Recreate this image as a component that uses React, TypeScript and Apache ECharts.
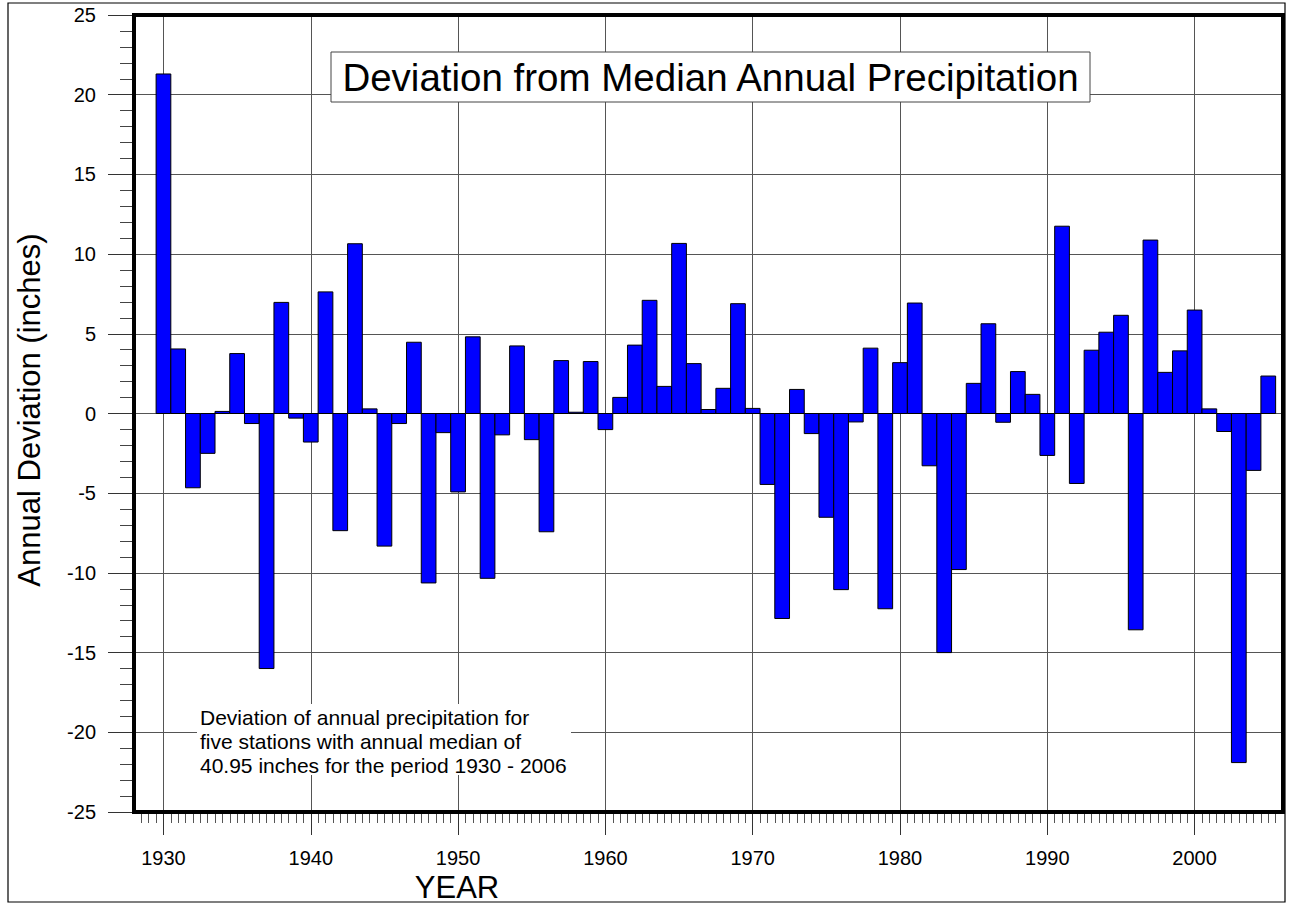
import React, { useEffect, useRef } from "react";
import * as echarts from "echarts";

const years: number[] = [
  1930, 1931, 1932, 1933, 1934, 1935, 1936, 1937, 1938, 1939,
  1940, 1941, 1942, 1943, 1944, 1945, 1946, 1947, 1948, 1949,
  1950, 1951, 1952, 1953, 1954, 1955, 1956, 1957, 1958, 1959,
  1960, 1961, 1962, 1963, 1964, 1965, 1966, 1967, 1968, 1969,
  1970, 1971, 1972, 1973, 1974, 1975, 1976, 1977, 1978, 1979,
  1980, 1981, 1982, 1983, 1984, 1985, 1986, 1987, 1988, 1989,
  1990, 1991, 1992, 1993, 1994, 1995, 1996, 1997, 1998, 1999,
  2000, 2001, 2002, 2003, 2004, 2005,
];

const deviation: number[] = [
  21.3, 4.05, -4.66, -2.5, 0.13, 3.76, -0.63, -16.0, 6.97, -0.29,
  -1.79, 7.63, -7.35, 10.65, 0.29, -8.32, -0.63, 4.47, -10.63, -1.2,
  -4.92, 4.81, -10.34, -1.34, 4.24, -1.64, -7.42, 3.32, 0.08, 3.26,
  -1.01, 1.01, 4.29, 7.1, 1.7, 10.67, 3.13, 0.25, 1.58, 6.89,
  0.32, -4.45, -12.86, 1.51, -1.26, -6.51, -11.05, -0.53, 4.1, -12.25,
  3.19, 6.93, -3.28, -15.0, -9.79, 1.89, 5.63, -0.55, 2.63, 1.2,
  -2.63, 11.75, -4.39, 3.97, 5.1, 6.16, -13.57, 10.88, 2.58, 3.93,
  6.49, 0.29, -1.13, -21.9, -3.57, 2.35,
];

const xTickValues: number[] = [1930, 1940, 1950, 1960, 1970, 1980, 1990, 2000];
const xMin = 1928;
const xMax = 2006;
const yMin = -25;
const yMax = 25;
const yStep = 5;

const titleText = "Deviation from Median Annual Precipitation";
const noteLines: string[] = [
  "Deviation of annual precipitation for",
  "five stations with annual median of",
  "40.95 inches for the period 1930 - 2006",
];
const yAxisTitle = "Annual Deviation (inches)";
const xAxisTitle = "YEAR";

const FONT = "'Liberation Sans', Arial, Helvetica, sans-serif";

export default function App() {
  const ref = useRef<HTMLDivElement>(null);

  useEffect(() => {
    if (!ref.current) return;
    const chart = echarts.init(ref.current, null, { renderer: "svg" });

    const data = years.map((y, i) => [y, deviation[i]]);

    const option: any = {
      animation: false,
      backgroundColor: "#ffffff",
      grid: { left: 134, top: 15, right: 6, bottom: 92, containLabel: false },
      xAxis: {
        type: "value",
        min: xMin,
        max: xMax,
        splitNumber: 8,
        axisLine: { show: false, onZero: false },
        axisTick: {
          show: true,
          customValues: xTickValues,
          length: 23,
          lineStyle: { color: "#333", width: 1 },
        },
        minorTick: {
          show: true,
          splitNumber: 20,
          length: 11,
          lineStyle: { color: "#555", width: 1 },
        },
        axisLabel: {
          customValues: xTickValues,
          formatter: (v: number) => String(v),
          margin: 36,
          color: "#000",
          fontFamily: FONT,
          fontSize: 20,
        },
        splitLine: { show: true, lineStyle: { color: "#555", width: 1 } },
      },
      yAxis: {
        type: "value",
        min: yMin,
        max: yMax,
        interval: yStep,
        axisLine: { show: false, onZero: false },
        axisTick: {
          show: true,
          length: 26,
          lineStyle: { color: "#333", width: 1 },
        },
        minorTick: {
          show: true,
          splitNumber: 5,
          length: 14,
          lineStyle: { color: "#444", width: 1 },
        },
        axisLabel: {
          formatter: (v: number) => String(v),
          margin: 38,
          color: "#000",
          fontFamily: FONT,
          fontSize: 20,
        },
        splitLine: { show: true, lineStyle: { color: "#555", width: 1 } },
      },
      series: [
        {
          type: "custom",
          data,
          encode: { x: 0, y: 1 },
          z: 5,
          renderItem: (params: any, api: any) => {
            const yr = api.value(0);
            const v = api.value(1);
            const p0 = api.coord([yr - 0.5, 0]);
            const p1 = api.coord([yr + 0.5, v]);
            return {
              type: "rect",
              shape: {
                x: p0[0],
                y: Math.min(p0[1], p1[1]),
                width: p1[0] - p0[0],
                height: Math.abs(p1[1] - p0[1]),
              },
              style: { fill: "#0000ff", stroke: "#000", lineWidth: 1 },
            };
          },
        },
      ],
      graphic: [
        {
          type: "rect",
          z: 100,
          silent: true,
          shape: { x: 8, y: 3, width: 1277, height: 899 },
          style: { fill: "none", stroke: "#000", lineWidth: 1.2 },
        },
        {
          type: "rect",
          z: 101,
          silent: true,
          shape: { x: 134, y: 15, width: 1149, height: 797 },
          style: { fill: "none", stroke: "#000", lineWidth: 4 },
        },
        {
          type: "rect",
          z: 102,
          silent: true,
          shape: { x: 331, y: 52, width: 759, height: 50 },
          style: { fill: "#fff", stroke: "#444", lineWidth: 1 },
        },
        {
          type: "text",
          z: 103,
          silent: true,
          x: 710.5,
          y: 77,
          style: {
            text: titleText,
            fill: "#000",
            font: `38.5px ${FONT}`,
            align: "center",
            verticalAlign: "middle",
          },
        },
        {
          type: "rect",
          z: 102,
          silent: true,
          shape: { x: 197, y: 704, width: 374, height: 71 },
          style: { fill: "#fff", stroke: "none" },
        },
        {
          type: "text",
          z: 103,
          silent: true,
          x: 200,
          y: 705,
          style: {
            text: noteLines.join("\n"),
            fill: "#000",
            font: `21px ${FONT}`,
            lineHeight: 24,
            align: "left",
            verticalAlign: "top",
          },
        },
        {
          type: "text",
          z: 103,
          silent: true,
          x: 29,
          y: 410,
          rotation: Math.PI / 2,
          style: {
            text: yAxisTitle,
            fill: "#000",
            font: `31px ${FONT}`,
            align: "center",
            verticalAlign: "middle",
          },
        },
        {
          type: "text",
          z: 103,
          silent: true,
          x: 457,
          y: 887,
          style: {
            text: xAxisTitle,
            fill: "#000",
            font: `31px ${FONT}`,
            align: "center",
            verticalAlign: "middle",
          },
        },
      ],
    };

    chart.setOption(option);
    return () => chart.dispose();
  }, []);

  return (
    <div
      ref={ref}
      style={{ position: "absolute", left: 0, top: 0, width: 1289, height: 904 }}
    />
  );
}
